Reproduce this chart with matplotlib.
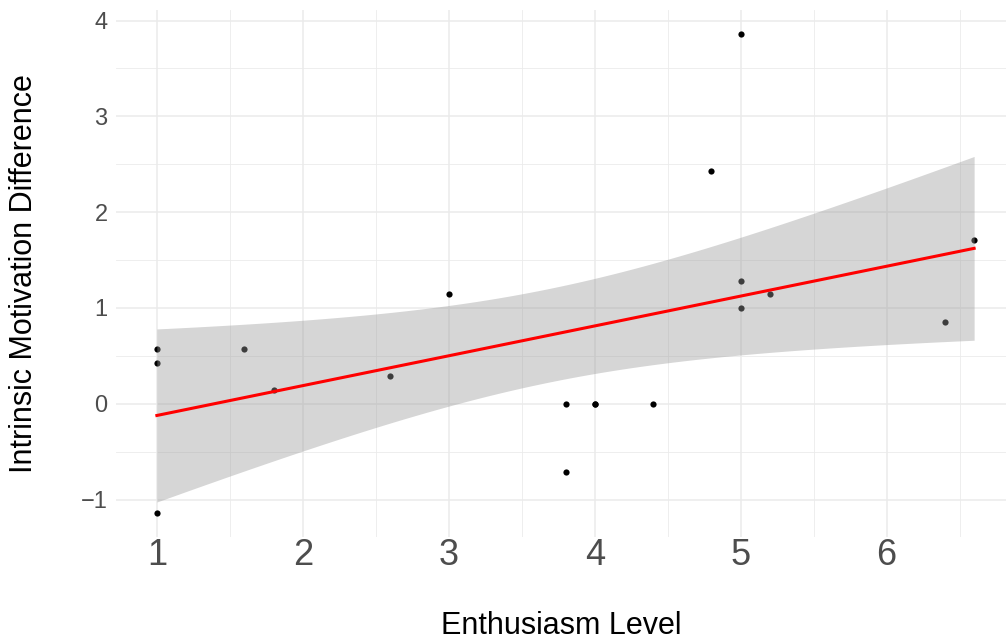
import matplotlib
matplotlib.use("Agg")
import matplotlib.pyplot as plt
import numpy as np
from matplotlib.ticker import MultipleLocator

plt.rcParams["font.family"] = ["Liberation Sans", "DejaVu Sans"]

# data (values look like multiples of 1/7);
# (4, 0) appears twice - the fitted line only matches with the overlap
enthusiasm = np.array([1, 1, 1, 1.6, 1.8, 2.6, 3, 3.8, 3.8, 4, 4, 4.4, 4.8, 5, 5, 5, 5.2, 6.4, 6.6])
motivation_diff = np.array([4, 3, -8, 4, 1, 2, 8, 0, -5, 0, 0, 0, 17, 27, 9, 7, 8, 6, 12]) / 7

# linear fit + 95% confidence band (like geom_smooth(method="lm"))
n = len(enthusiasm)
slope, intercept = np.polyfit(enthusiasm, motivation_diff, 1)
resid = motivation_diff - (intercept + slope * enthusiasm)
s = np.sqrt(np.sum(resid ** 2) / (n - 2))
xm = enthusiasm.mean()
sxx = np.sum((enthusiasm - xm) ** 2)
t_crit = 2.1098  # t(0.975, df=17)
xs = np.linspace(enthusiasm.min(), enthusiasm.max(), 80)
ys = intercept + slope * xs
se = s * np.sqrt(1 / n + (xs - xm) ** 2 / sxx)

fig = plt.figure(figsize=(10.06, 6.43), dpi=100)
W, H = 1006, 643
ax = fig.add_axes([116 / W, 1 - 537 / H, (1015 - 116) / W, (537 - 10) / H])

ax.scatter(enthusiasm, motivation_diff, s=20, c="black", linewidths=0, zorder=2)
ax.fill_between(xs, ys - t_crit * se, ys + t_crit * se, color="#999999", alpha=0.4,
                linewidth=0, zorder=3)
ax.plot(xs, ys, color="red", lw=2.2, zorder=4)

ax.set_xlim(0.72, 6.88)
ax.set_ylim(-1.39, 4.11)
ax.xaxis.set_major_locator(MultipleLocator(1))
ax.xaxis.set_minor_locator(MultipleLocator(0.5))
ax.yaxis.set_major_locator(MultipleLocator(1))
ax.yaxis.set_minor_locator(MultipleLocator(0.5))
ax.grid(which="major", color="#EBEBEB", lw=1.1, zorder=0)
ax.grid(which="minor", color="#EBEBEB", lw=0.6, zorder=0)
ax.set_axisbelow(True)
for sp in ax.spines.values():
    sp.set_visible(False)
ax.tick_params(which="both", length=0)
ax.tick_params(axis="x", labelsize=26, labelcolor="#4D4D4D", pad=1)
ax.tick_params(axis="y", labelsize=17, labelcolor="#4D4D4D", pad=6)
ax.yaxis.set_major_formatter(plt.FuncFormatter(lambda v, p: f"{v:g}".replace("-", "\u2212")))

ax.set_xlabel("Enthusiasm Level", fontsize=22, color="black")
ax.set_ylabel("Intrinsic Motivation Difference", fontsize=22, color="black")
ax.xaxis.set_label_coords((561 - 116) / 899, (537 - 611) / 527)
ax.yaxis.set_label_coords((39 - 116) / 899, (537 - 274) / 527)

fig.savefig("out.png", dpi=100)
